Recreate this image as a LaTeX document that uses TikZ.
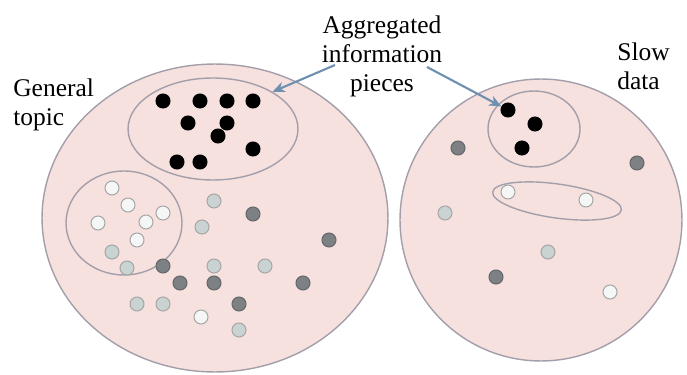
\documentclass[tikz,border=0pt]{standalone}
\usepackage{fontspec}
\newfontfamily\labelfont{Liberation Serif}
\usetikzlibrary{arrows.meta, shapes.geometric}
\definecolor{blob}{HTML}{F7E1DF}
\definecolor{rim}{HTML}{A39FAA}
\definecolor{pointer}{HTML}{6E8FB0}
\definecolor{darkpt}{HTML}{7D8184}
\definecolor{lightpt}{HTML}{C9D3D1}
\definecolor{whitept}{HTML}{F5F6F6}

\begin{document}
\begin{tikzpicture}[x=0.02cm, y=-0.02cm,
      set/.style={draw=rim, ellipse, line width=0.8pt, inner sep=0pt},
      pt/.style={circle, draw=gray!70, line width=0.6pt, minimum size=0.28cm, inner sep=0pt},
      lbl/.style={font=\labelfont\fontsize{14.5}{16.5}\selectfont, inner sep=0pt},
      ptr/.style={draw=pointer, line width=1.2pt, -{Stealth[length=7pt, width=6pt]}}
    ]
    \useasboundingbox (0,0) rectangle (687,375);

    \node[set, fill=blob, minimum width=6.92cm, minimum height=6.16cm] (topic) at (215,218) {};
    \node[set, fill=blob, minimum size=5.64cm] (slow) at (541,220) {};
    \node[set, minimum width=3.4cm, minimum height=2.04cm] (aggL) at (213,129) {};
    \node[set, minimum width=2.32cm, minimum height=2.08cm] (clus) at (124,223) {};
    \node[set, minimum width=1.84cm, minimum height=1.52cm] (aggR) at (534,129) {};
    \node[set, minimum width=2.6cm, minimum height=0.68cm, rotate=-8] (pair) at (557,201) {};

    \foreach \x/\y [count=\i] in {163/101, 200/101, 227/101, 253/101, 188/123, 227/123, 218/136, 253/149, 177/162, 200/162} {
      \node[pt, fill=black, draw=black] (bl\i) at (\x,\y) {};
    }
    \foreach \x/\y [count=\i] in {508/110, 535/124, 522/148} {
      \node[pt, fill=black, draw=black] (br\i) at (\x,\y) {};
    }
    \foreach \x/\y [count=\i] in {112/188, 128/205, 163/213, 98/223, 146/222, 137/240, 201/317, 508/192, 586/200, 610/292} {
      \node[pt, fill=whitept] (w\i) at (\x,\y) {};
    }
    \foreach \x/\y [count=\i] in {112/252, 127/268, 214/201, 202/227, 214/266, 265/266, 137/304, 163/304, 239/330, 445/213, 548/252} {
      \node[pt, fill=lightpt] (l\i) at (\x,\y) {};
    }
    \foreach \x/\y [count=\i] in {253/214, 329/240, 163/266, 180/283, 214/283, 303/283, 239/304, 458/148, 637/163, 496/277} {
      \node[pt, fill=darkpt, draw=darkpt!80!black] (d\i) at (\x,\y) {};
    }

    \node[lbl, anchor=north west, align=left] (gen) at (13,78) {General\\topic};
    \node[lbl, anchor=north, align=center] (agg) at (382,15) {Aggregated\\information\\pieces};
    \node[lbl, anchor=north west, align=left] (slowlbl) at (617,42) {Slow\\data};

    \coordinate (t1) at (335,65);
    \coordinate (t2) at (427,67);
    \draw[ptr] (t1) -- (aggL.32);
    \draw[ptr] (t2) -- (br1);
  \end{tikzpicture}
\end{document}
